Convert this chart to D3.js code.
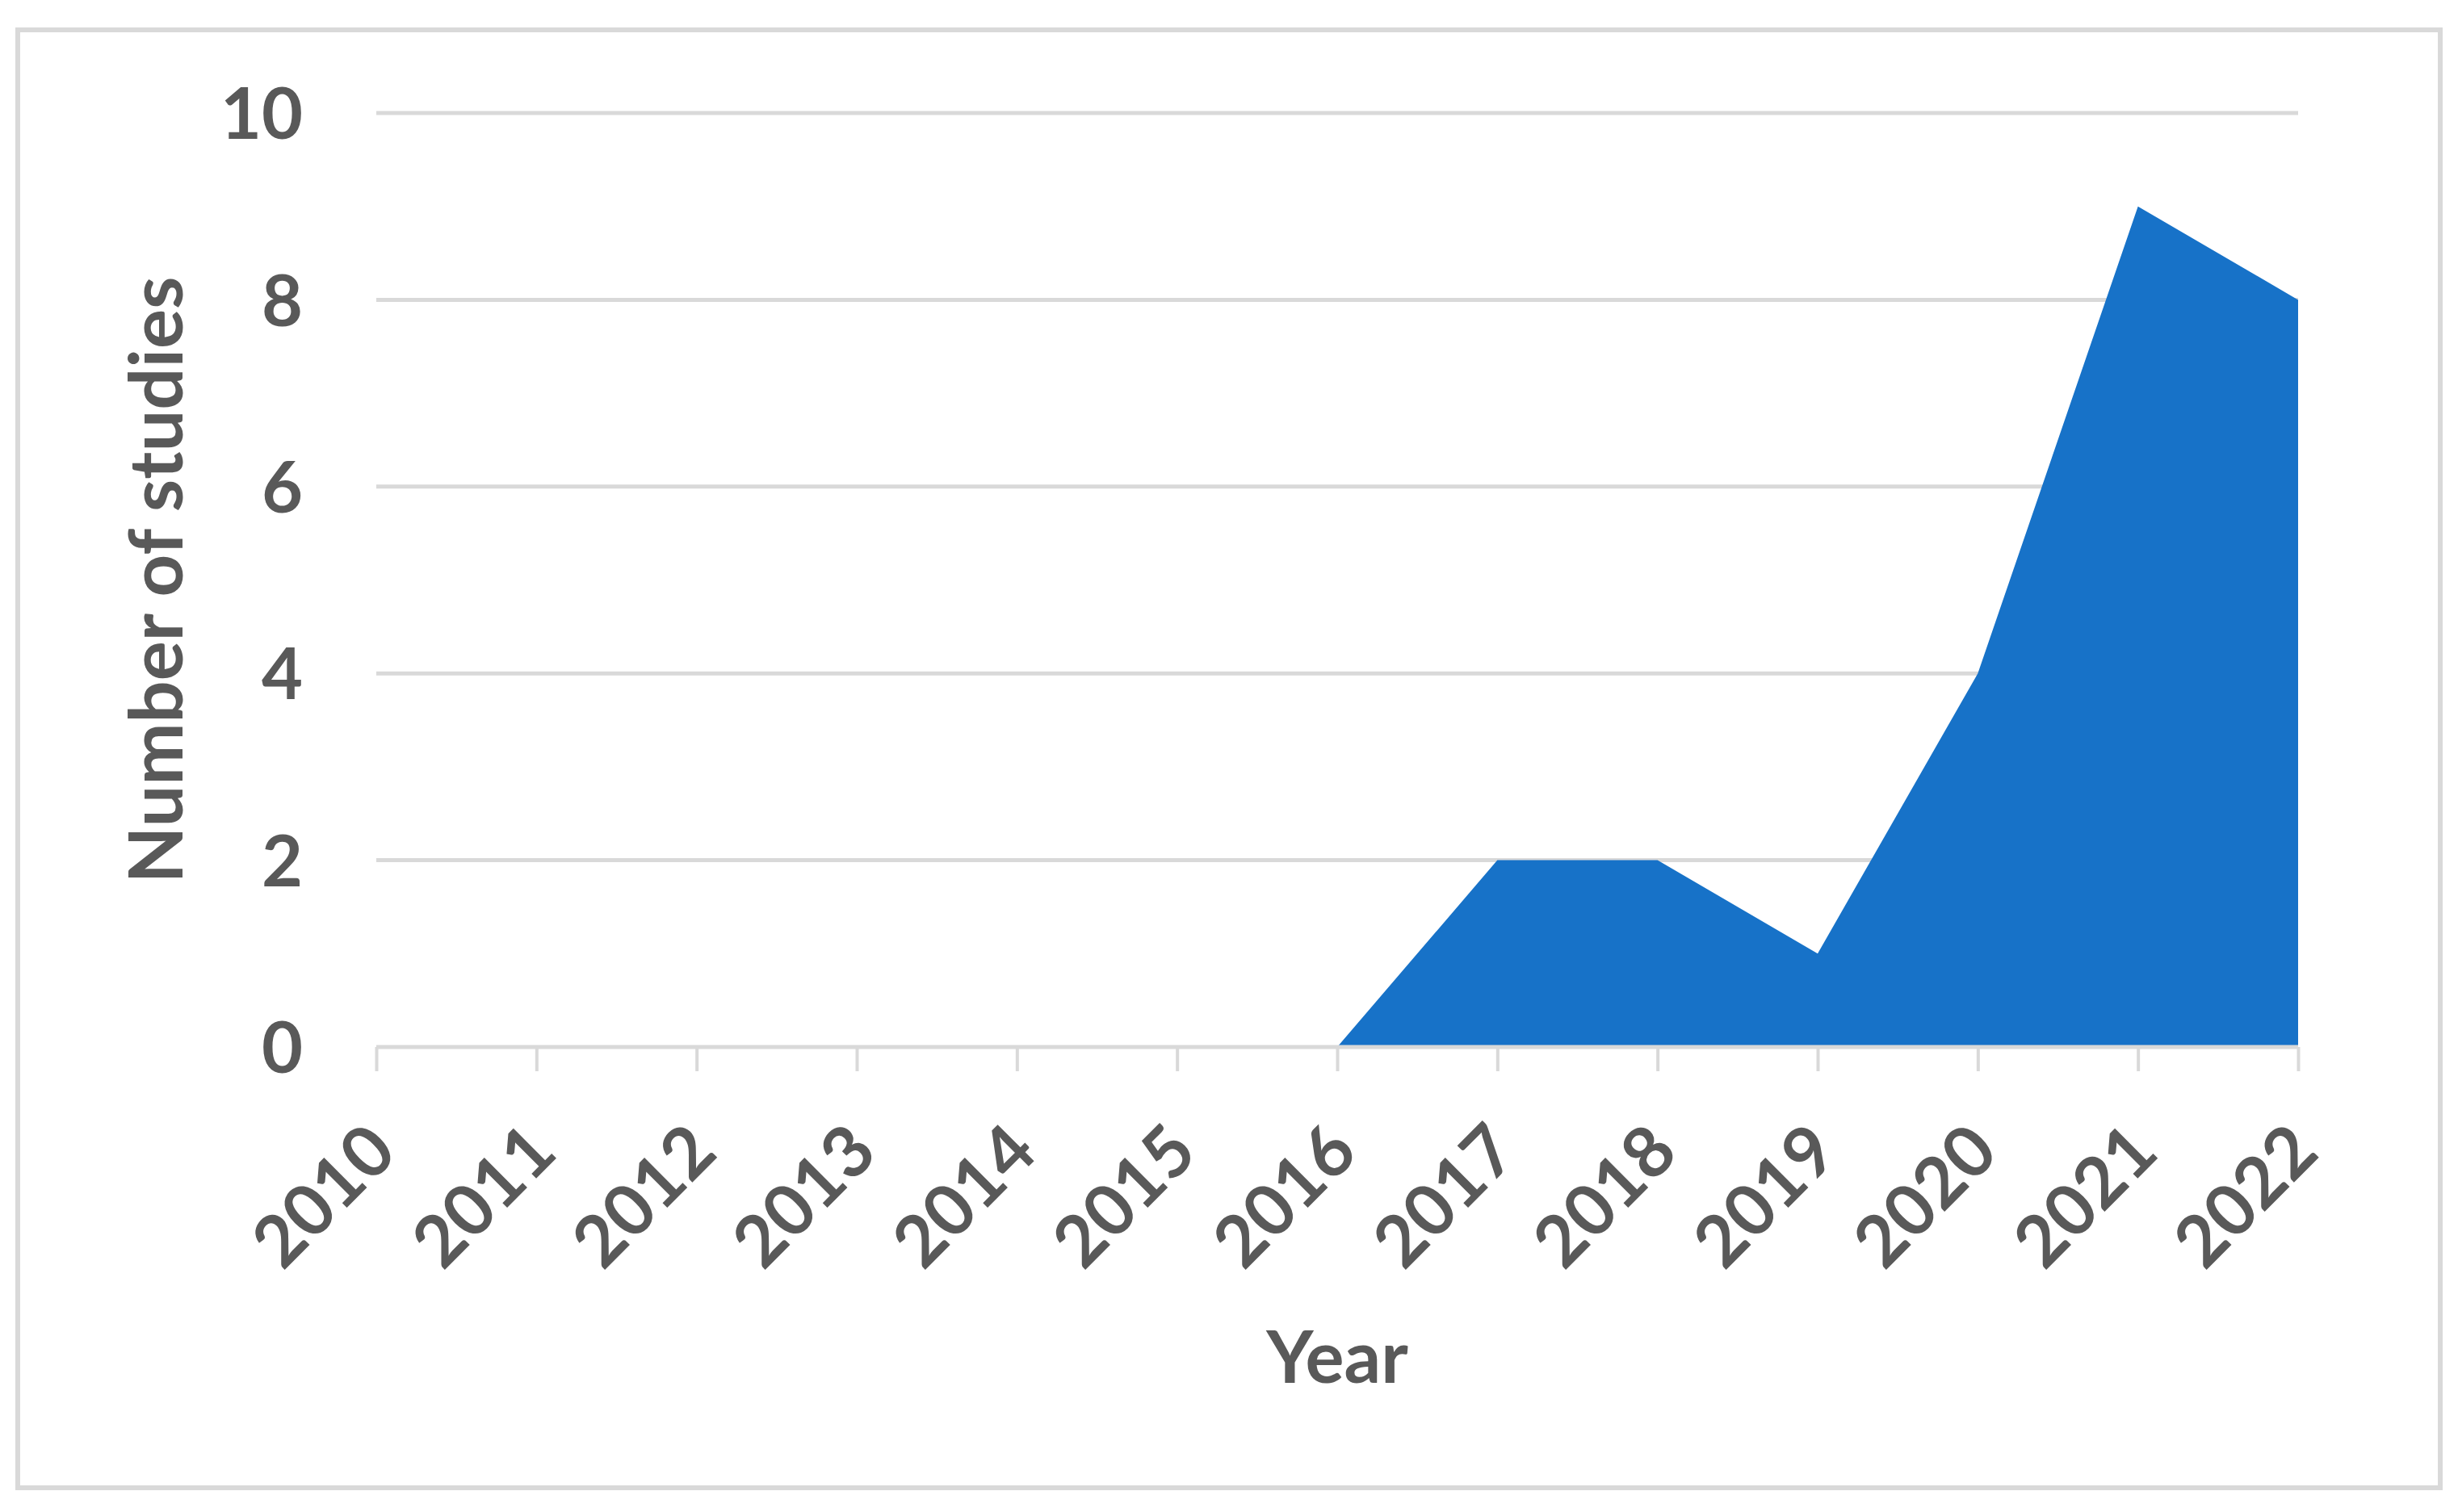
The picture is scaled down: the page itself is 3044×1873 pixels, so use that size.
<!DOCTYPE html>
<meta charset="utf-8">
<style>
  body { margin: 0; background: #fff; }
  text { font-family: Lato, "Open Sans", sans-serif; font-weight: bold; fill: #595959; }
</style>

<!-- Create a div where the graph will take place -->
<div id="my_dataviz"></div>

<script src="https://d3js.org/d3.v7.min.js"></script>
<script>
// data
var years = ["2010", "2011", "2012", "2013", "2014", "2015", "2016",
             "2017", "2018", "2019", "2020", "2021", "2022"];
var studies = [0, 0, 0, 0, 0, 0, 0, 2, 2, 1, 4, 9, 8];
var yTicks = [0, 2, 4, 6, 8, 10];

var width = 3044
var height = 1873

// plot area (note: "top" is taken by window.top, so prefix them)
var plotLeft = 466, plotRight = 2846, plotTop = 140, plotBottom = 1297;

var svg = d3.select("#my_dataviz")
  .append("svg")
    .attr("width", width)
    .attr("height", height)

// outer frame
svg.append("rect")
  .attr("x", 22).attr("y", 37)
  .attr("width", 3000).attr("height", 1806)
  .attr("fill", "#fff")
  .attr("stroke", "#d9d9d9")
  .attr("stroke-width", 6)

var x = d3.scalePoint()
  .domain(years)
  .range([plotLeft, plotRight])

var y = d3.scaleLinear()
  .domain([0, 10])
  .range([plotBottom, plotTop])

// horizontal gridlines (without the zero line, drawn later on top)
svg.selectAll("line.grid")
  .data(yTicks.filter(function(d){ return d > 0; }))
  .enter()
  .append("line")
    .attr("class", "grid")
    .attr("x1", plotLeft).attr("x2", plotRight)
    .attr("y1", function(d){ return y(d); })
    .attr("y2", function(d){ return y(d); })
    .attr("stroke", "#d9d9d9")
    .attr("stroke-width", 5)

// the area
var data = years.map(function(d, i){ return {year: d, value: studies[i]}; });

svg.append("path")
  .datum(data)
  .attr("fill", "#1772c8")
  .attr("d", d3.area()
    .x(function(d){ return x(d.year); })
    .y0(y(0))
    .y1(function(d){ return y(d.value); })
  )

// x axis
var xAxis = svg.append("g")
  .attr("transform", "translate(0," + plotBottom + ")")
  .call(d3.axisBottom(x).tickSize(30).tickPadding(0))

xAxis.select(".domain")
  .attr("d", "M" + plotLeft + ",0H" + plotRight)
  .attr("stroke", "#d9d9d9")
  .attr("stroke-width", 5)
xAxis.selectAll(".tick line")
  .attr("stroke", "#d9d9d9")
  .attr("stroke-width", 4)
xAxis.selectAll(".tick text")
  .attr("font-family", null)
  .style("font-size", "88px")
  .attr("text-anchor", "end")
  .attr("y", null)
  .attr("dy", null)
  .attr("transform", "translate(28,134) rotate(-45)")

// y axis labels
var yAxis = svg.append("g")
  .attr("transform", "translate(" + plotLeft + ",0)")
  .call(d3.axisLeft(y).tickValues(yTicks).tickSize(0).tickPadding(91))

yAxis.select(".domain").remove()
yAxis.selectAll(".tick text")
  .attr("font-family", null)
  .style("font-size", "88px")
  .attr("dy", "0.36em")

// axis titles
svg.append("text")
  .attr("transform", "translate(226," + (plotTop + plotBottom) / 2 + ") rotate(-90)")
  .attr("text-anchor", "middle")
  .style("font-size", "92px")
  .text("Number of studies")

svg.append("text")
  .attr("x", (plotLeft + plotRight) / 2)
  .attr("y", 1713)
  .attr("text-anchor", "middle")
  .style("font-size", "90px")
  .text("Year")
</script>
